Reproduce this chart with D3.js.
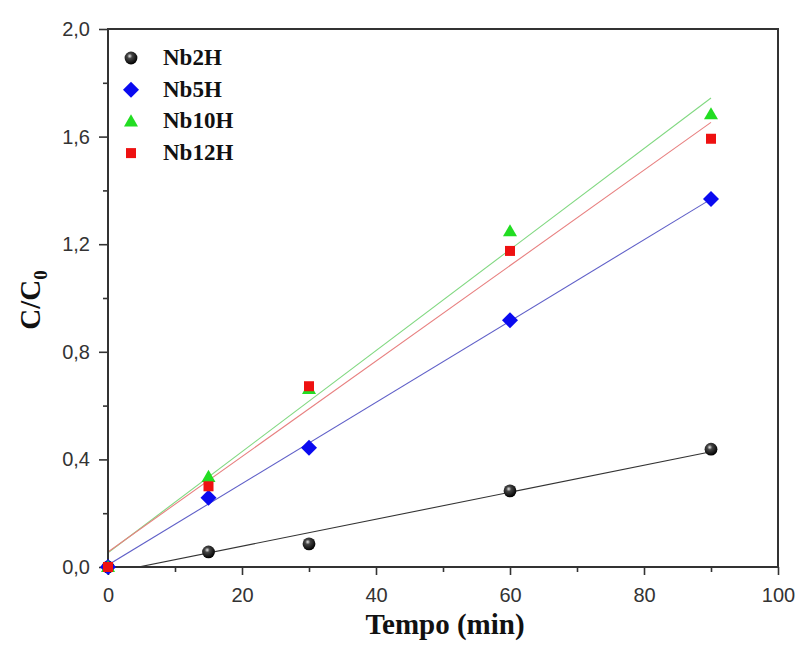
<!DOCTYPE html>
<html>
<head>
<meta charset="utf-8">
<script src="https://cdn.jsdelivr.net/npm/d3@7"></script>
<style>
  html, body { margin: 0; padding: 0; background: #fff; }
  svg { display: block; }
</style>
</head>
<body>
<svg id="chart" width="799" height="657"></svg>
<script>
// Degradation time points (min)
const tempo = [0, 15, 30, 60, 90];
// C/C0 for each sample
const nb2h  = [0, 0.056, 0.086, 0.283, 0.438];
const nb5h  = [0, 0.257, 0.443, 0.917, 1.368];
const nb10h = [0, 0.335, 0.662, 1.248, 1.683];
const nb12h = [0, 0.300, 0.672, 1.175, 1.592];
const seriesNames = ["Nb2H", "Nb5H", "Nb10H", "Nb12H"];
const xTicks = [0, 20, 40, 60, 80, 100];
const yTicks = [0, 0.4, 0.8, 1.2, 1.6, 2.0];

const series = [
  { name: seriesNames[0], values: nb2h,  color: "#111", line: "#333", shape: "sphere" },
  { name: seriesNames[1], values: nb5h,  color: "#0a0af0", line: "#6060c8", shape: "diamond" },
  { name: seriesNames[2], values: nb10h, color: "#22dd22", line: "#80d880", shape: "triangle" },
  { name: seriesNames[3], values: nb12h, color: "#ee1111", line: "#e88080", shape: "square" }
];

const svg = d3.select("#chart");
const plotL = 108, plotR = 778, plotT = 29, plotB = 567;
const x = d3.scaleLinear().domain([0, 100]).range([plotL, plotR]);
const y = d3.scaleLinear().domain([0, 2.0]).range([plotB, plotT]);

const defs = svg.append("defs");
defs.append("clipPath").attr("id", "plotclip")
  .append("rect").attr("x", plotL).attr("y", plotT).attr("width", plotR - plotL).attr("height", plotB - plotT);
const grad = defs.append("radialGradient").attr("id", "sphere")
  .attr("cx", "0.4").attr("cy", "0.35").attr("r", "0.65");
grad.append("stop").attr("offset", "0%").attr("stop-color", "#e8e8e8");
grad.append("stop").attr("offset", "30%").attr("stop-color", "#444");
grad.append("stop").attr("offset", "100%").attr("stop-color", "#000");

// Least-squares linear fit of each series
function fit(xs, ys) {
  const mx = d3.mean(xs), my = d3.mean(ys);
  let sxy = 0, sxx = 0;
  xs.forEach((v, i) => { sxy += (v - mx) * (ys[i] - my); sxx += (v - mx) ** 2; });
  const b = sxy / sxx;
  return { slope: b, intercept: my - b * mx };
}

const fitLayer = svg.append("g").attr("clip-path", "url(#plotclip)");
series.forEach(s => {
  const f = fit(tempo, s.values);
  const x0 = 0, x1 = d3.max(tempo);
  fitLayer.append("line")
    .attr("x1", x(x0)).attr("y1", y(f.intercept + f.slope * x0))
    .attr("x2", x(x1)).attr("y2", y(f.intercept + f.slope * x1))
    .attr("stroke", s.line).attr("stroke-width", 1.1);
});

// Axes
const fmt = d => d3.format(".1f")(d).replace(".", ",");
const xAxis = d3.axisBottom(x).tickValues(xTicks).tickSize(8).tickPadding(13);
const xMinor = d3.axisBottom(x).tickValues([10, 30, 50, 70, 90]).tickSize(5).tickFormat("");
const yAxis = d3.axisLeft(y).tickValues(yTicks).tickSize(9).tickPadding(9).tickFormat(fmt);
const yMinor = d3.axisLeft(y).tickValues([0.2, 0.6, 1.0, 1.4, 1.8]).tickSize(5).tickFormat("");

function styleAxis(g) {
  g.select(".domain").remove();
  g.selectAll(".tick line").attr("stroke", "#333").attr("stroke-width", 1.6);
  g.selectAll("text").attr("fill", "#333").style("font-family", "Arial, 'Liberation Sans', sans-serif").style("font-size", "20px");
}
svg.append("g").attr("transform", `translate(0,${plotB})`).call(xAxis).call(styleAxis);
svg.append("g").attr("transform", `translate(0,${plotB})`).call(xMinor).call(styleAxis);
svg.append("g").attr("transform", `translate(${plotL},0)`).call(yAxis).call(styleAxis);
svg.append("g").attr("transform", `translate(${plotL},0)`).call(yMinor).call(styleAxis);

// Frame
svg.append("rect").attr("x", plotL).attr("y", plotT).attr("width", plotR - plotL).attr("height", plotB - plotT)
  .attr("fill", "none").attr("stroke", "#333").attr("stroke-width", 2);

// Marker drawing
function marker(g, shape, color, cx, cy) {
  if (shape === "sphere") {
    g.append("circle").attr("cx", cx).attr("cy", cy).attr("r", 6.4).attr("fill", "url(#sphere)");
  } else if (shape === "diamond") {
    const h = 8;
    g.append("path").attr("d", `M${cx},${cy - h}L${cx + h},${cy}L${cx},${cy + h}L${cx - h},${cy}Z`)
      .attr("fill", color);
  } else if (shape === "triangle") {
    g.append("path").attr("d", d3.symbol(d3.symbolTriangle, 85)())
      .attr("transform", `translate(${cx},${cy + 1})`).attr("fill", color);
  } else {
    g.append("rect").attr("x", cx - 5).attr("y", cy - 5).attr("width", 10).attr("height", 10).attr("fill", color);
  }
}

const pts = svg.append("g");
series.forEach(s => {
  s.values.forEach((v, i) => marker(pts, s.shape, s.color, x(tempo[i]), y(v)));
});

// Legend
const legend = svg.append("g");
series.forEach((s, i) => {
  const ly = 58 + i * 31.7;
  marker(legend, s.shape, s.color, 131, ly);
  legend.append("text").attr("x", 163).attr("y", ly + 7)
    .style("font-family", "'Liberation Serif', 'Times New Roman', serif")
    .style("font-weight", "bold").style("font-size", "23px").attr("fill", "#111")
    .text(s.name);
});

// Axis titles
svg.append("text").attr("x", 445).attr("y", 634).attr("text-anchor", "middle")
  .style("font-family", "'Liberation Serif', 'Times New Roman', serif")
  .style("font-weight", "bold").style("font-size", "29px").attr("fill", "#111")
  .text("Tempo (min)");

const yt = svg.append("text").attr("transform", `translate(40,${(plotT + plotB) / 2 + 2}) rotate(-90)`)
  .attr("text-anchor", "middle")
  .style("font-family", "'Liberation Serif', 'Times New Roman', serif")
  .style("font-weight", "bold").style("font-size", "29px").attr("fill", "#111");
yt.append("tspan").text("C/C");
yt.append("tspan").attr("dy", 7).style("font-size", "19px").text("0");
</script>
</body>
</html>
